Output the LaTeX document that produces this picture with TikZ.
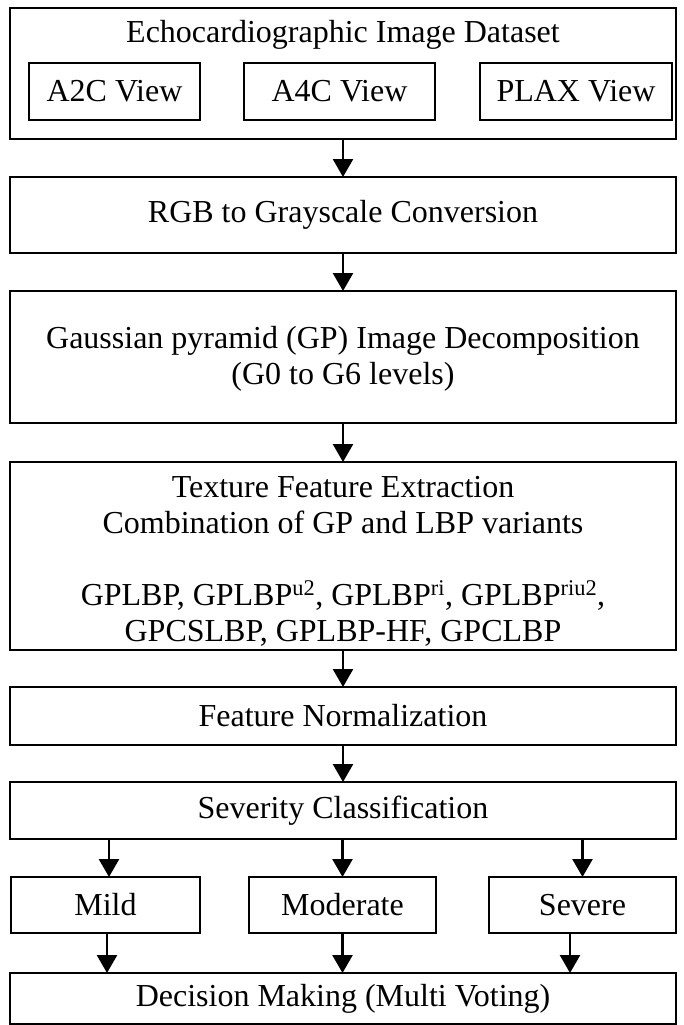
\documentclass[tikz,border=0pt]{standalone}
\usepackage{fontspec}
\setmainfont{Liberation Serif}
\usetikzlibrary{arrows.meta}
\begin{document}
\begin{tikzpicture}[x=1pt,y=-1pt,
  box/.style={draw=black, line width=2.8pt, inner sep=0pt, outer sep=0pt,
    font=\fontsize{32}{36}\selectfont, align=center},
  lbl/.style={inner sep=0pt, font=\fontsize{32}{36}\selectfont},
  arr/.style={line width=2.6pt, -{Triangle[length=18pt,width=20pt]}},
]
\useasboundingbox (0,0) rectangle (683,1025);
% dataset container
\node[box, minimum width=666pt, minimum height=131pt] (ds) at (343,73.5) {};
\node[lbl, anchor=base] (dstitle) at (343,43) {Echocardiographic Image Dataset};
\node[box, minimum width=171pt, minimum height=57pt] (a2c) at (114.5,91.5) {A2C View};
\node[box, minimum width=191pt, minimum height=57pt] (a4c) at (339.5,91.5) {A4C View};
\node[box, minimum width=192pt, minimum height=57pt] (plax) at (576,91.5) {PLAX View};
% main steps
\node[box, minimum width=666pt, minimum height=76pt] (rgb) at (343,215) {RGB to Grayscale Conversion};
\node[box, minimum width=666pt, minimum height=132pt, text height=54pt, text depth=0pt] (gp) at (343,357)
  {Gaussian pyramid (GP) Image Decomposition\\(G0 to G6 levels)};
\node[box, minimum width=666pt, minimum height=188pt, text height=170pt, text depth=0pt] (tfe) at (343,556)
  {Texture Feature Extraction\\Combination of GP and LBP variants\\[36pt]
   GPLBP, GPLBP\textsuperscript{u2}, GPLBP\textsuperscript{ri}, GPLBP\textsuperscript{riu2},\\
   GPCSLBP, GPLBP-HF, GPCLBP};
\node[box, minimum width=666pt, minimum height=58pt] (fn) at (343,716) {Feature Normalization};
\node[box, minimum width=666pt, minimum height=57pt] (sc) at (343,810.5) {Severity Classification};
\node[box, minimum width=189pt, minimum height=56pt] (mild) at (105.5,905) {Mild};
\node[box, minimum width=187pt, minimum height=56pt] (mod) at (342.5,905) {Moderate};
\node[box, minimum width=187pt, minimum height=56pt] (sev) at (582.5,905) {Severe};
\node[box, minimum width=666pt, minimum height=51pt] (dm) at (343,998.5) {Decision Making (Multi Voting)};
% connectors
\draw[arr] (ds.south) -- (rgb.north);
\draw[arr] (rgb.south) -- (gp.north);
\draw[arr] (gp.south) -- (tfe.north);
\draw[arr] (tfe.south) -- (fn.north);
\draw[arr] (fn.south) -- (sc.north);
\draw[arr] ([xshift=3.5pt]mild.north |- sc.south) -- ([xshift=3.5pt]mild.north);
\draw[arr] (mod.north |- sc.south) -- (mod.north);
\draw[arr] (sev.north |- sc.south) -- (sev.north);
\draw[arr] ([xshift=1.5pt]mild.south) -- ([xshift=1.5pt]mild.south |- dm.north);
\draw[arr] (mod.south) -- (mod.south |- dm.north);
\draw[arr] ([xshift=-12.5pt]sev.south) -- ([xshift=-12.5pt]sev.south |- dm.north);
\end{tikzpicture}
\end{document}
